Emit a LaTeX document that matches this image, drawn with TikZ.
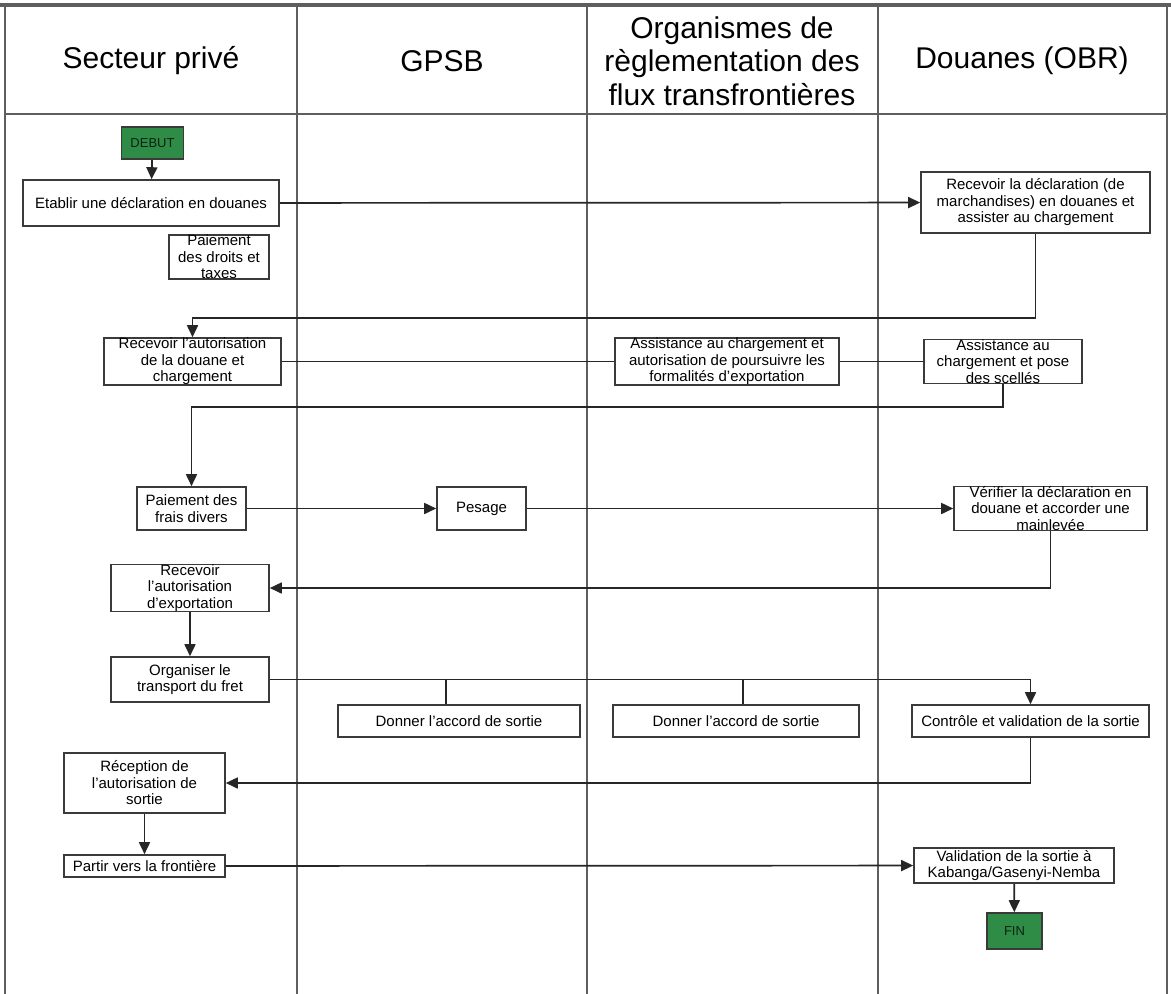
\documentclass[tikz,border=0pt]{standalone}
\usepackage{fontspec}
\setmainfont{Liberation Sans}
\usepackage{tikz}
\usetikzlibrary{arrows.meta,positioning}
\definecolor{lanegray}{HTML}{5E5E5E}
\definecolor{boxline}{HTML}{3A3A3A}
\definecolor{okgreen}{HTML}{2F8C46}
\begin{document}
\begin{tikzpicture}[x=1pt,y=-1pt, every node/.style={font=\fontsize{15}{16.5}\selectfont,align=center,inner sep=0pt}, box/.style={draw=boxline,line width=1.6pt,fill=white}, sz/.style 2 args={minimum width=#1pt,minimum height=#2pt}, ends/.style={draw=boxline,line width=1.6pt,fill=okgreen,text=black!75!okgreen,font=\fontsize{13}{14}\selectfont}, head/.style={font=\fontsize{30}{33.5}\selectfont}, lane/.style={lanegray,line width=2pt}, arr/.style={-{Triangle[length=12pt,width=11pt]},line width=1.7pt,black!85}, link/.style={line width=1.7pt,black!85}]
\useasboundingbox (0,0) rectangle (1171,994);
\draw[lanegray,line width=3.5pt] (0,5) -- (1171,5);
\foreach \x in {5,297,587,878,1167} \draw[lane] (\x,5) -- (\x,994);
\draw[lane] (5,114) -- (1167,114);
\node[head] (hprive) at (151,61) {Secteur privé};
\node[head] (hgpsb) at (442,61) {GPSB};
\node[head] (horg) at (732,61) {Organismes de\\règlementation des\\flux transfrontières};
\node[head] (hobr) at (1022,61) {Douanes (OBR)};
\node[ends,sz={62}{32}] (debut) at (152.5,143) {DEBUT};
\node[box,sz={256}{46}] (etablir) at (151,203) {Etablir une déclaration en douanes};
\node[box,sz={100}{44}] (droits) at (219,257) {Paiement\\des droits et\\taxes};
\node[box,sz={229}{61}] (recdecl) at (1035.5,202.5) {Recevoir la déclaration (de\\marchandises) en douanes et\\assister au chargement};
\node[box,sz={177}{43}] (recaut) at (192.5,361.5) {Recevoir l'autorisation\\de la douane et\\chargement};
\node[box,sz={224}{43}] (assorg) at (727,361.5) {Assistance au chargement et\\autorisation de poursuivre les\\formalités d'exportation};
\node[box,sz={158}{43}] (assdou) at (1003,361.5) {Assistance au\\chargement et pose\\des scellés};
\node[box,sz={109}{43}] (frais) at (191.5,508.5) {Paiement des\\frais divers};
\node[box,sz={89}{43}] (pesage) at (481.5,508.5) {Pesage};
\node[box,sz={193}{43}] (verif) at (1050.5,508.5) {Vérifier la déclaration en\\douane et accorder une\\mainlevée};
\node[box,sz={158}{44}] (recexp) at (190,588) {Recevoir\\l'autorisation\\d'exportation};
\node[box,sz={158}{45}] (organ) at (190,679.5) {Organiser le\\transport du fret};
\node[box,sz={242}{32}] (accgpsb) at (459,721) {Donner l'accord de sortie};
\node[box,sz={246}{32}] (accorg) at (736,721) {Donner l'accord de sortie};
\node[box,sz={237}{32}] (controle) at (1030.5,721) {Contrôle et validation de la sortie};
\node[box,sz={161}{60}] (recsort) at (144.5,783) {Réception de\\l'autorisation de\\sortie};
\node[box,sz={161}{22}] (partir) at (144.5,866) {Partir vers la frontière};
\node[box,sz={200}{35}] (valid) at (1014,865.5) {Validation de la sortie à\\Kabanga/Gasenyi-Nemba};
\node[ends,sz={55}{36}] (fin) at (1014.5,931) {FIN};
\draw[arr] (debut)--(etablir);\draw[arr] (etablir)--(recdecl);\draw[arr] (recdecl.south)--++(0,84)-|(recaut.north);
\draw[link] (recaut)--(assorg);\draw[link] (assorg)--(assdou);\draw[arr] (assdou.south)--++(0,23)-|(frais.north);
\draw[arr] (frais)--(pesage);\draw[arr] (pesage)--(verif);\draw[arr] (verif.south)|-(recexp.east);\draw[arr] (recexp)--(organ);
\draw[arr] (organ.east)-|(controle.north);\draw[link] ([xshift=-13pt]accgpsb.north)--++(0,-25);\draw[link] ([xshift=7pt]accorg.north)--++(0,-25);
\draw[arr] (controle.south)|-(recsort.east);\draw[arr] (recsort)--(partir);\draw[arr] (partir)--(valid);\draw[arr] (valid)--(fin);
\end{tikzpicture}
\end{document}
